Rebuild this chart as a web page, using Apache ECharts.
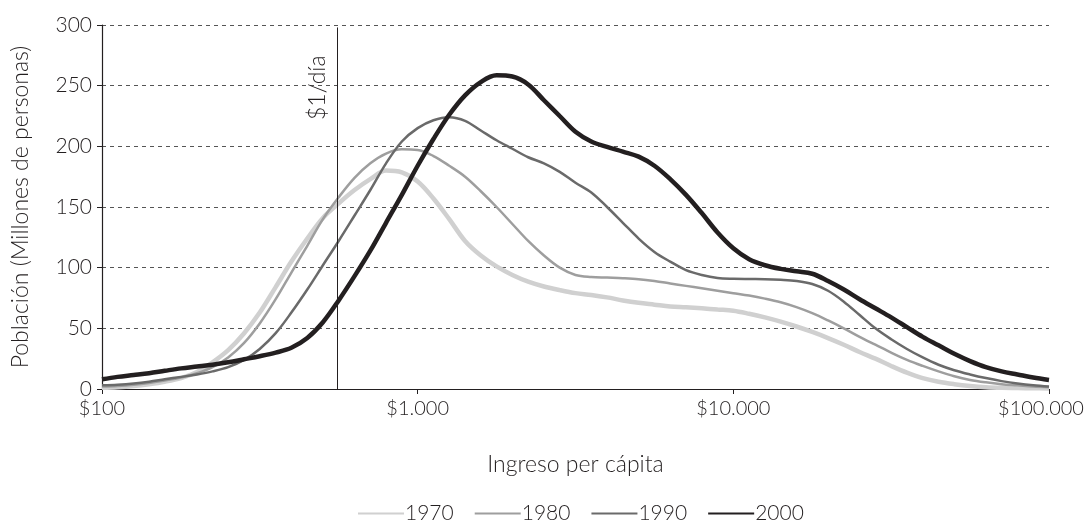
<!DOCTYPE html>
<html>
<head>
<meta charset="utf-8">
<script src="https://cdn.jsdelivr.net/npm/echarts@6/dist/echarts.min.js"></script>
<style>
html,body{margin:0;padding:0;background:#fff;}
#chart{width:1084px;height:523px;}
</style>
</head>
<body>
<div id="chart"></div>
<script>
// Income sample points (US$ per capita, log scale, every 0.05 decade)
const incomes = [100, 112, 126, 141, 158, 178, 200, 224, 251, 282, 316, 355, 398, 447, 501, 562, 631, 708, 794, 891,
  1000, 1122, 1259, 1413, 1585, 1778, 1995, 2239, 2512, 2818, 3162, 3548, 3981, 4467, 5012, 5623, 6310, 7079, 7943, 8913,
  10000, 11220, 12589, 14125, 15849, 17783, 19953, 22387, 25119, 28184, 31623, 35481, 39811, 44668, 50119, 56234, 63096, 70795, 79433, 89125,
  100000];
const years = ['1970', '1980', '1990', '2000'];
const pop1970 = [1, 1.5, 2.5, 4, 6, 9, 14, 22, 32, 46, 63, 84, 105, 124, 141, 153, 164, 173, 180, 178.5,
  171, 157, 140, 122, 110, 101, 94, 88.5, 84.5, 81.5, 79, 77.5, 75.5, 73, 71, 69.5, 68, 67.3, 66.5, 65.5,
  64.5, 62, 59, 55.5, 51.5, 47, 42, 36.5, 30.5, 25, 19, 13.5, 9, 6, 4, 2.5, 1.5, 1, 0.8, 0.6,
  0.5];
const pop1980 = [2, 2.5, 3.5, 5, 7, 9.5, 13, 18, 26, 38, 54, 74, 96, 118, 140, 158, 174, 186, 194, 197.5,
  197, 192, 184, 175, 163, 150, 136, 122, 110, 100, 94, 92.3, 91.8, 91.3, 90.5, 89, 87, 85, 83, 81,
  79, 77, 74.5, 71.5, 67.5, 62.5, 56.5, 50, 43, 36.5, 30, 24, 19, 14.5, 10.5, 7.5, 5.5, 4, 3, 2,
  1.5];
const pop1990 = [3, 3.5, 4.5, 6, 8, 10, 12, 14.5, 18, 24, 33, 46, 63, 82, 102, 122, 143, 164, 186, 204,
  215, 221.5, 224, 221, 213, 205, 198, 191, 186, 179, 170, 162, 150, 137, 124, 113, 105, 98, 94, 91.5,
  90.8, 90.6, 90.5, 90, 89, 86.5, 81, 72, 61, 50, 41, 33, 26, 20, 15.5, 12, 9, 6.5, 4.5, 3,
  2];
const pop2000 = [8, 10, 11.5, 13, 15, 17, 18.5, 20, 22, 24.5, 27, 30, 34, 42, 55, 73, 93, 114, 137, 160,
  184, 206, 226, 242, 253, 258.5, 257.5, 251, 238, 225, 212, 204, 199.5, 195.6, 191.5, 184, 173, 160, 145, 129,
  116, 107, 102, 99, 97, 95, 89, 82, 74, 66.5, 59, 51, 43, 36, 29, 23, 18, 14.5, 12, 9.5,
  7.5];
const povertyLine = 555;
const povertyLabel = '$1/día';
const xTicks = ['$100', '$1.000', '$10.000', '$100.000'];
const yTicks = [0, 50, 100, 150, 200, 250, 300];

const allPop = [pop1970, pop1980, pop1990, pop2000];
const colors = ['#d0d0d0', '#9e9e9e', '#6a6a6a', '#231f20'];
const widths = [4.5, 2.5, 2.5, 4.5];
const txt = '#231f20';
const font = 'Lato';

function fmtMoney(v) {
  const s = Math.round(v).toString().replace(/\B(?=(\d{3})+(?!\d))/g, '.');
  return '$' + s;
}

const series = years.map((y, i) => {
  const s = {
    name: y,
    type: 'line',
    smooth: 0.35,
    symbol: 'none',
    data: incomes.map((x, k) => [x, allPop[i][k]]),
    lineStyle: { color: colors[i], width: widths[i] },
    itemStyle: { color: colors[i] },
    z: 2 + i
  };
  if (i === 3) {
    s.markLine = {
      silent: true,
      symbol: 'none',
      animation: false,
      lineStyle: { color: '#231f20', width: 1, type: 'solid' },
      label: {
        show: true,
        formatter: povertyLabel,
        position: 'insideEndTop',
        distance: [28, 8],
        fontFamily: font,
        fontWeight: 300,
        fontSize: 23,
        color: txt
      },
      data: [[{ coord: [povertyLine, 0] }, { coord: [povertyLine, 298] }]]
    };
  }
  return s;
});

const chart = echarts.init(document.getElementById('chart'), null, { renderer: 'canvas' });
chart.setOption({
  animation: false,
  backgroundColor: '#fff',
  textStyle: { fontFamily: font, color: txt },
  grid: { left: 102, right: 35, top: 25, bottom: 134, containLabel: false, outerBoundsMode: 'none' },
  legend: {
    top: 498,
    left: 352,
    itemWidth: 46,
    itemHeight: 14,
    itemGap: 20,
    itemStyle: { opacity: 0 },
    textStyle: { fontFamily: font, fontWeight: 300, fontSize: 21, color: txt, padding: [0, 0, 0, -4] },
    data: years
  },
  xAxis: {
    type: 'log',
    logBase: 10,
    min: 100,
    max: 100000,
    name: 'Ingreso per cápita',
    nameLocation: 'middle',
    nameGap: 64,
    nameTextStyle: { fontFamily: font, fontWeight: 300, fontSize: 23, color: txt },
    axisLine: { show: true, lineStyle: { color: '#231f20', width: 1.2 } },
    axisTick: { show: true, length: 5, lineStyle: { color: '#231f20' } },
    minorTick: { show: false },
    splitLine: { show: false },
    axisLabel: {
      margin: 10,
      fontFamily: font, fontWeight: 300, fontSize: 20, color: txt,
      rich: { last: { fontFamily: font, fontWeight: 300, fontSize: 20, color: txt, padding: [0, 16, 0, 0] } },
      formatter: function (v) {
        const idx = Math.round(Math.log10(v)) - 2;
        const t = xTicks[idx] !== undefined ? xTicks[idx] : fmtMoney(v);
        return idx === xTicks.length - 1 ? '{last|' + t + '}' : t;
      }
    }
  },
  yAxis: {
    type: 'value',
    min: yTicks[0],
    max: yTicks[yTicks.length - 1],
    interval: 50,
    name: 'Población (Millones de personas)',
    nameLocation: 'middle',
    nameGap: 70,
    nameRotate: 90,
    nameTextStyle: { fontFamily: font, fontWeight: 300, fontSize: 23, color: txt },
    axisLine: { show: true, lineStyle: { color: '#231f20', width: 1.2 } },
    axisTick: { show: true, length: 5, lineStyle: { color: '#231f20' } },
    splitLine: { show: true, lineStyle: { color: '#555', width: 1, type: [4, 4] } },
    axisLabel: { margin: 10, fontFamily: font, fontWeight: 300, fontSize: 21, color: txt }
  },
  series: series
});
</script>
</body>
</html>
